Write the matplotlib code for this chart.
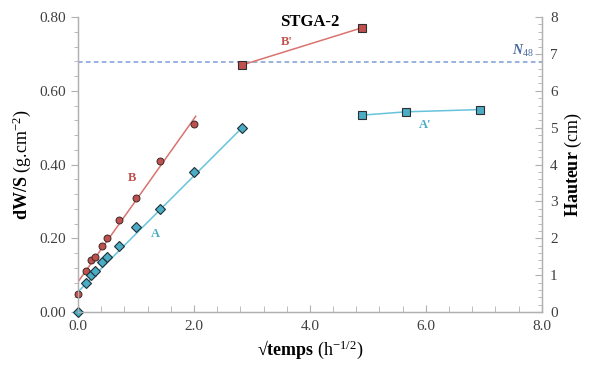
import matplotlib
matplotlib.use("Agg")
import matplotlib.pyplot as plt
from matplotlib.ticker import MultipleLocator, FormatStrFormatter

plt.rcParams['font.family'] = ['Liberation Serif', 'DejaVu Serif']
plt.rcParams['mathtext.fontset'] = 'custom'
plt.rcParams['mathtext.rm'] = 'Liberation Serif'
plt.rcParams['mathtext.it'] = 'Liberation Serif:italic:bold'
plt.rcParams['mathtext.bf'] = 'Liberation Serif:bold'

# --- data ---
sqrt_t_B = [0.0, 0.13, 0.22, 0.29, 0.41, 0.50, 0.71, 1.00, 1.41, 2.00]
dws_B = [0.05, 0.11, 0.14, 0.15, 0.18, 0.20, 0.25, 0.31, 0.41, 0.51]
sqrt_t_A = [0.0, 0.13, 0.22, 0.29, 0.41, 0.50, 0.71, 1.00, 1.41, 2.00, 2.83]
dws_A = [0.00, 0.08, 0.10, 0.11, 0.135, 0.15, 0.18, 0.23, 0.28, 0.38, 0.50]
fit_B_x = [0.0, 2.03]
fit_B_y = [0.082, 0.531]
fit_A_x = [0.0, 2.83]
fit_A_y = [0.055, 0.50]
sqrt_t_Bp = [2.83, 4.90]
haut_Bp = [6.70, 7.71]
sqrt_t_Ap = [4.90, 5.66, 6.93]
haut_Ap = [5.34, 5.43, 5.49]
n48_level = 6.79

red_m = '#c0504d'
red_l = '#d9736f'
blue_m = '#4bacc6'
blue_l = '#67c3dc'
spine_c = '#b0b0b0'
label_c = '#404040'

fig = plt.figure(figsize=(5.96, 3.71), dpi=100)
ax = fig.add_axes([0.131, 0.159, 0.778, 0.795])
ax2 = ax.twinx()

ax.set_xlim(0, 8)
ax.set_ylim(0, 0.8)
ax2.set_ylim(0, 8)

# fits
ax.plot(fit_B_x, fit_B_y, color=red_l, lw=1.1, zorder=2)
ax.plot(fit_A_x, fit_A_y, color=blue_l, lw=1.1, zorder=2)
# points
ax.plot(sqrt_t_B, dws_B, 'o', color=red_m, mec='#3a2a2a', mew=0.7, ms=5, ls='none', clip_on=False, zorder=3)
ax.plot(sqrt_t_A, dws_A, 'D', color=blue_m, mec='#1f2f35', mew=0.8, ms=5, ls='none', clip_on=False, zorder=3)

# right axis
ax2.axhline(n48_level, color='#7a9bd6', lw=1.1, ls=(0, (3, 2.2)), zorder=1)
ax2.plot(sqrt_t_Bp, haut_Bp, '-', color=red_l, lw=1.1, zorder=2)
ax2.plot(sqrt_t_Bp, haut_Bp, 's', color=red_m, mec='#2f2f2f', mew=0.8, ms=6, ls='none', zorder=3)
ax2.plot(sqrt_t_Ap, haut_Ap, '-', color=blue_l, lw=1.1, zorder=2)
ax2.plot(sqrt_t_Ap, haut_Ap, 's', color=blue_m, mec='#2f2f2f', mew=0.8, ms=6, ls='none', zorder=3)

# text labels
ax.text(0.93, 0.363, 'B', color=red_m, fontsize=9, fontweight='bold', ha='center', va='center')
ax.text(1.33, 0.211, 'A', color=blue_m, fontsize=9, fontweight='bold', ha='center', va='center')
ax.text(3.6, 0.733, "B'", color=red_m, fontsize=9, fontweight='bold', ha='center', va='center')
ax2.text(5.99, 5.07, "A'", color=blue_m, fontsize=9, fontweight='bold', ha='center', va='center')
ax2.text(7.67, 7.08, r'$N_{\mathit{48}}$', color='#4a6aa0', fontsize=10,
         ha='center', va='center')
ax.text(0.5, 0.982, 'STGA-2', transform=ax.transAxes, fontsize=12, fontweight='bold', ha='center', va='center')

# axes styling
for a in (ax, ax2):
    a.spines['top'].set_visible(False)
    for s in ('left', 'right', 'bottom'):
        a.spines[s].set_color(spine_c)
        a.spines[s].set_linewidth(0.9)

ax.xaxis.set_major_locator(MultipleLocator(2))
ax.xaxis.set_minor_locator(MultipleLocator(0.4))
ax.yaxis.set_major_locator(MultipleLocator(0.2))
ax.yaxis.set_minor_locator(MultipleLocator(0.04))
ax.xaxis.set_major_formatter(FormatStrFormatter('%.1f'))
ax.yaxis.set_major_formatter(FormatStrFormatter('%.2f'))
ax2.yaxis.set_major_locator(MultipleLocator(1))
ax2.yaxis.set_minor_locator(MultipleLocator(0.2))

ax.tick_params(axis='x', which='both', direction='in', color=spine_c, labelcolor=label_c, labelsize=11, pad=6)
ax.tick_params(axis='x', which='major', length=5)
ax.tick_params(axis='x', which='minor', length=4)
ax.tick_params(axis='y', which='both', direction='out', color=spine_c, labelcolor=label_c, labelsize=11)
ax.tick_params(axis='y', which='major', length=5)
ax.tick_params(axis='y', which='minor', length=3)
ax2.tick_params(axis='y', which='both', direction='in', color=spine_c, labelcolor=label_c, labelsize=11, pad=6)
ax2.tick_params(axis='y', which='major', length=5)
ax2.tick_params(axis='y', which='minor', length=3)

ax.set_xlabel('\u221a' + r'$\mathbf{temps}$ (h$^{-1/2}$)', fontsize=13, labelpad=4)
ax.set_ylabel(r'$\mathbf{dW/S}$ (g.cm$^{-2}$)', fontsize=13, labelpad=5)
ax2.set_ylabel(r'$\mathbf{Hauteur}$ (cm)', fontsize=13, labelpad=4)

fig.savefig('out.png', dpi=100)
